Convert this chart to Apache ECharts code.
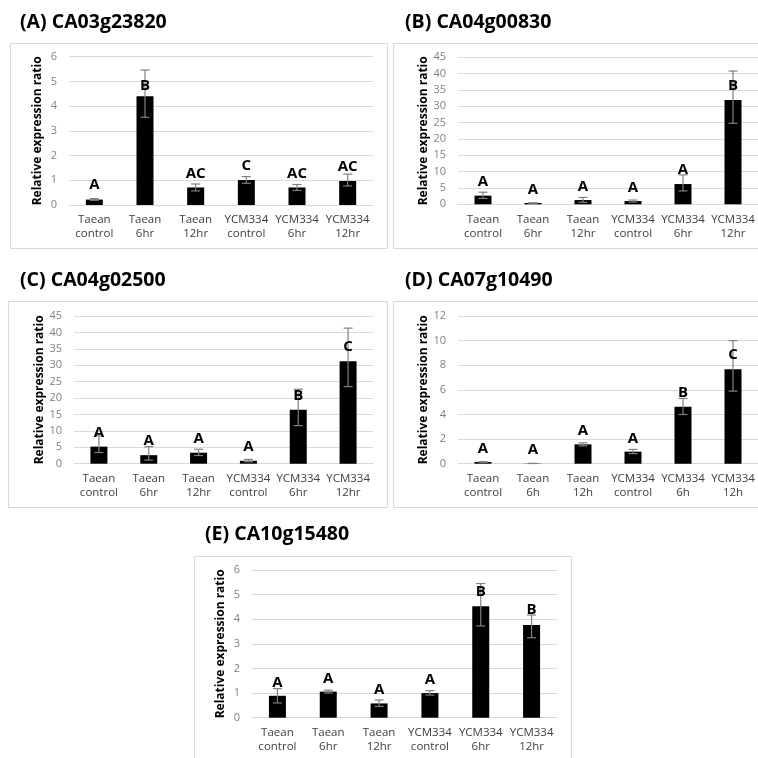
<!DOCTYPE html>
<html>
<head>
<meta charset="utf-8">
<script src="https://cdn.jsdelivr.net/npm/echarts@6/dist/echarts.min.js"></script>
<style>html,body{margin:0;padding:0;background:#fff;}#c{width:758px;height:758px;}</style>
</head>
<body>
<div id="c"></div>
<script>
// ---- Data ----
const categoriesHr = ['Taean\ncontrol','Taean\n6hr','Taean\n12hr','YCM334\ncontrol','YCM334\n6hr','YCM334\n12hr'];
const categoriesH = ['Taean\ncontrol','Taean\n6h','Taean\n12h','YCM334\ncontrol','YCM334\n6h','YCM334\n12h'];

const titles = ['(A) CA03g23820','(B) CA04g00830','(C) CA04g02500','(D) CA07g10490','(E) CA10g15480'];

const meanA = [0.22, 4.4, 0.71, 1.01, 0.71, 0.97];
const upperA = [0.26, 5.46, 0.85, 1.15, 0.83, 1.25];
const lowerA = [0.19, 3.55, 0.57, 0.88, 0.59, 0.77];
const lettersA = ['A','B','AC','C','AC','AC'];
const letterYA = [0.81, 4.81, 1.28, 1.59, 1.28, 1.55];

const meanB = [2.65, 0.4, 1.3, 1.0, 6.2, 31.9];
const upperB = [3.7, 0.5, 2.1, 1.3, 9.0, 40.8];
const lowerB = [1.8, 0.3, 0.6, 0.7, 4.1, 24.8];
const lettersB = ['A','A','A','A','A','B'];
const letterYB = [6.9, 4.6, 5.4, 5.2, 10.5, 36.2];

const meanC = [5.2, 2.6, 3.35, 0.9, 16.4, 31.2];
const upperC = [8.5, 5.2, 4.4, 1.3, 22.7, 41.3];
const lowerC = [3.4, 1.1, 2.5, 0.6, 11.6, 23.5];
const lettersC = ['A','A','A','A','B','C'];
const letterYC = [9.45, 6.9, 7.7, 5.2, 20.7, 35.7];

const meanD = [0.14, 0.02, 1.57, 0.98, 4.63, 7.67];
const upperD = [0.17, 0.02, 1.7, 1.16, 5.3, 10.0];
const lowerD = [0.11, 0.02, 1.45, 0.82, 4.0, 5.9];
const lettersD = ['A','A','A','A','B','C'];
const letterYD = [1.25, 1.11, 2.68, 2.06, 5.77, 8.83];

const meanE = [0.89, 1.06, 0.58, 1.0, 4.53, 3.77];
const upperE = [1.18, 1.12, 0.72, 1.1, 5.45, 4.17];
const lowerE = [0.6, 1.0, 0.46, 0.92, 3.73, 3.25];
const lettersE = ['A','A','A','A','B','B'];
const letterYE = [1.44, 1.6, 1.12, 1.56, 5.1, 4.4];

const yMax = [6, 45, 45, 12, 6];
const yInterval = [1, 5, 5, 2, 1];

// ---- Layout ----
const panels = [
  {cats: categoriesHr, mean: meanA, up: upperA, lo: lowerA, let: lettersA, ly: letterYA,
   grid: {left: 69, top: 56.7, width: 304, height: 148.3}, box: [10, 43, 377, 205], title: [20, 12]},
  {cats: categoriesHr, mean: meanB, up: upperB, lo: lowerB, let: lettersB, ly: letterYB,
   grid: {left: 458, top: 57.3, width: 300, height: 147}, box: [393, 43, 370, 205], title: [405, 12]},
  {cats: categoriesHr, mean: meanC, up: upperC, lo: lowerC, let: lettersC, ly: letterYC,
   grid: {left: 74, top: 316, width: 299, height: 147.7}, box: [8, 301, 379, 206], title: [20, 270]},
  {cats: categoriesH, mean: meanD, up: upperD, lo: lowerD, let: lettersD, ly: letterYD,
   grid: {left: 458, top: 316, width: 300, height: 147.7}, box: [393, 301, 370, 206], title: [405, 270]},
  {cats: categoriesHr, mean: meanE, up: upperE, lo: lowerE, let: lettersE, ly: letterYE,
   grid: {left: 252, top: 570, width: 305, height: 147.7}, box: [194, 556, 377, 210], title: [205, 524]}
];

const FONT = '"Open Sans", "Noto Sans", sans-serif';
const option = {
  animation: false,
  backgroundColor: '#ffffff',
  title: [], grid: [], xAxis: [], yAxis: [], series: [],
  graphic: []
};

panels.forEach((p, i) => {
  option.graphic.push({
    type: 'rect', silent: true, z: -10,
    shape: {x: p.box[0] + 0.5, y: p.box[1] + 0.5, width: p.box[2], height: p.box[3]},
    style: {fill: '#ffffff', stroke: '#d9d9d9', lineWidth: 1}
  });
  option.title.push({
    text: titles[i], left: p.title[0], top: p.title[1], padding: 0,
    textStyle: {fontFamily: FONT, fontWeight: 'bold', fontSize: 19.5, color: '#000'}
  });
  option.grid.push(Object.assign({containLabel: false}, p.grid));
  option.xAxis.push({
    type: 'category', gridIndex: i, data: p.cats,
    axisTick: {show: false},
    axisLine: {lineStyle: {color: '#d9d9d9', width: 1}},
    axisLabel: {color: '#404040', fontSize: 11.5, lineHeight: 14, margin: 8, fontFamily: FONT, interval: 0}
  });
  option.yAxis.push({
    type: 'value', gridIndex: i, min: 0, max: yMax[i], interval: yInterval[i],
    name: 'Relative expression ratio', nameLocation: 'middle', nameGap: 25,
    nameTextStyle: {fontFamily: FONT, fontWeight: 'bold', fontSize: 12, color: '#000'},
    axisLine: {show: false}, axisTick: {show: false},
    axisLabel: {color: '#808080', fontSize: 11, margin: 12, fontFamily: FONT},
    splitLine: {lineStyle: {color: '#d9d9d9', width: 1}}
  });
  option.series.push({
    type: 'bar', xAxisIndex: i, yAxisIndex: i, data: p.mean,
    barWidth: 17, itemStyle: {color: '#000000'}, z: 2
  });
  option.series.push({
    type: 'custom', xAxisIndex: i, yAxisIndex: i, z: 3,
    data: p.mean.map((m, k) => [k, p.up[k], p.lo[k]]),
    renderItem: function (params, api) {
      const x = api.value(0);
      const a = api.coord([x, api.value(1)]);
      const b = api.coord([x, api.value(2)]);
      const hw = 4.5;
      const st = {stroke: '#808080', lineWidth: 1.2};
      return {type: 'group', children: [
        {type: 'line', shape: {x1: a[0], y1: a[1], x2: b[0], y2: b[1]}, style: st},
        {type: 'line', shape: {x1: a[0] - hw, y1: a[1], x2: a[0] + hw, y2: a[1]}, style: st},
        {type: 'line', shape: {x1: b[0] - hw, y1: b[1], x2: b[0] + hw, y2: b[1]}, style: st}
      ]};
    }
  });
  option.series.push({
    type: 'custom', xAxisIndex: i, yAxisIndex: i, z: 4,
    data: p.ly.map((y, k) => [k, y, p.let[k]]),
    renderItem: function (params, api) {
      const pt = api.coord([api.value(0), api.value(1)]);
      return {type: 'text', x: pt[0], y: pt[1], style: {
        text: p.let[params.dataIndex], fill: '#000',
        font: 'bold 15px ' + FONT,
        align: 'center', verticalAlign: 'middle',
        textAlign: 'center', textVerticalAlign: 'middle'
      }};
    }
  });
});

const chart = echarts.init(document.getElementById('c'), null, {renderer: 'canvas'});
chart.setOption(option);
</script>
</body>
</html>
